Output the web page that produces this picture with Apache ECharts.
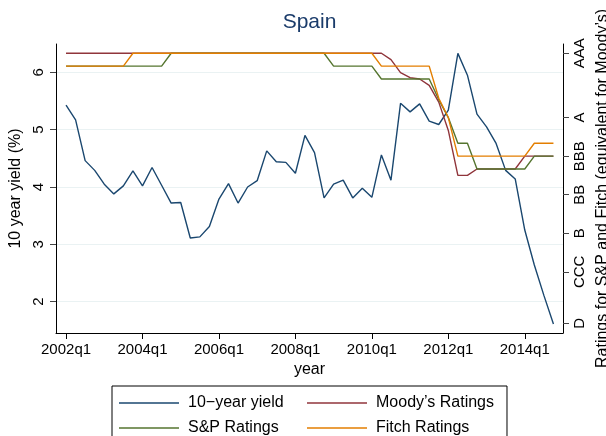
<!DOCTYPE html>
<html>
<head>
<meta charset="utf-8">
<script src="https://cdn.jsdelivr.net/npm/echarts@6/dist/echarts.min.js"></script>
<style>
html, body { margin: 0; padding: 0; background: #fff; }
#main { width: 606px; height: 436px; }
</style>
</head>
<body>
<div id="main"></div>
<script>
// quarterly data, 2002q1 .. 2014q4 (index 0 = 2002q1)
var yield10 = [5.43, 5.17, 4.46, 4.29, 4.05, 3.88, 4.02, 4.28, 4.02, 4.34, 4.03, 3.72, 3.73,
  3.11, 3.13, 3.31, 3.79, 4.06, 3.72, 4.00, 4.11, 4.63, 4.44, 4.43, 4.24, 4.90, 4.60,
  3.81, 4.05, 4.12, 3.81, 3.98, 3.82, 4.56, 4.12, 5.46, 5.31, 5.45, 5.15, 5.09, 5.34,
  6.33, 5.95, 5.27, 5.05, 4.76, 4.29, 4.14, 3.25, 2.64, 2.11, 1.61]

// ratings in notches: D=0 ... AAA=21
var moodys = [21, 21, 21, 21, 21, 21, 21, 21, 21, 21, 21, 21, 21, 21, 21, 21, 21, 21, 21, 21,
  21, 21, 21, 21, 21, 21, 21, 21, 21, 21, 21, 21, 21, 21, 20.5, 19.5, 19.1, 19, 18.5, 17.2,
  15, 11.5, 11.5, 12, 12, 12, 12, 12, 13, 13, 13, 13]
var sp = [20, 20, 20, 20, 20, 20, 20, 20, 20, 20, 20, 21, 21, 21, 21, 21, 21, 21, 21, 21,
  21, 21, 21, 21, 21, 21, 21, 21, 20, 20, 20, 20, 20, 19, 19, 19, 19, 19, 19, 17.4,
  16, 14, 14, 12, 12, 12, 12, 12, 12, 13, 13, 13]
var fitch = [20, 20, 20, 20, 20, 20, 20, 21, 21, 21, 21, 21, 21, 21, 21, 21, 21, 21, 21, 21,
  21, 21, 21, 21, 21, 21, 21, 21, 21, 21, 21, 21, 21, 20, 20, 20, 20, 20, 20, 17.5,
  16, 13, 13, 13, 13, 13, 13, 13, 13, 14, 14, 14]

var xTicks = [0, 8, 16, 24, 32, 40, 48]
var yieldTicks = [2, 3, 4, 5, 6]
var ratingTicks = [0, 4, 7, 10, 13, 16, 21]
var ratingLabels = ['D', 'CCC', 'B', 'BB', 'BBB', 'A', 'AAA']

function toPairs(arr) {
  return arr.map(function (v, i) { return [i, v] })
}

var font = 'Liberation Sans, Arial, Helvetica, sans-serif'
var chart = echarts.init(document.getElementById('main'), null, { renderer: 'canvas' })

var option = {
  backgroundColor: '#fff',
  animation: false,
  textStyle: { fontFamily: font },
  title: {
    text: 'Spain',
    left: 309.5,
    textAlign: 'center',
    top: 12,
    padding: 0,
    textStyle: { fontFamily: font, fontSize: 21, fontWeight: 'normal', color: '#1a3b6a' }
  },
  grid: { left: 56, right: 43, top: 44, bottom: 103, containLabel: false, outerBoundsMode: 'none' },
  xAxis: {
    type: 'value',
    min: -1.05,
    max: 52,
    name: 'year',
    nameLocation: 'middle',
    nameGap: 29,
    nameTextStyle: { fontFamily: font, fontSize: 16, color: '#000' },
    axisLine: { show: true, onZero: false, lineStyle: { color: '#000', width: 1 } },
    axisTick: { show: true, customValues: xTicks, length: 6, lineStyle: { color: '#000' } },
    axisLabel: {
      customValues: xTicks, margin: 9, fontSize: 15, color: '#000', fontFamily: font,
      formatter: function (v) { return (2002 + Math.round(v) / 4) + 'q1' }
    },
    splitLine: { show: false }
  },
  yAxis: [{
    type: 'value',
    position: 'left',
    min: 1.454,
    max: 6.494,
    name: '10 year yield (%)',
    nameLocation: 'middle',
    nameGap: 24,
    nameTextStyle: { fontFamily: font, fontSize: 16, color: '#000' },
    axisLine: { show: true, onZero: false, lineStyle: { color: '#000', width: 1 } },
    axisTick: { show: true, customValues: yieldTicks, length: 6, lineStyle: { color: '#444' } },
    axisLabel: { customValues: yieldTicks, rotate: 90, margin: 10, fontSize: 15, color: '#000', fontFamily: font },
    splitLine: { show: true, customValues: yieldTicks, lineStyle: { color: '#eaf2f3', width: 1.2 } }
  }, {
    type: 'value',
    position: 'right',
    min: -0.754,
    max: 21.72,
    name: 'Ratings for S&P and Fitch (equivalent for Moody\u2019s)',
    nameLocation: 'middle',
    nameGap: 29,
    nameTextStyle: { fontFamily: font, fontSize: 16, color: '#000' },
    axisLine: { show: true, onZero: false, lineStyle: { color: '#000', width: 1 } },
    axisTick: { show: true, customValues: ratingTicks, length: 6, lineStyle: { color: '#444' } },
    axisLabel: {
      customValues: ratingTicks, rotate: 90, margin: 9, fontSize: 15, color: '#000', fontFamily: font,
      formatter: function (v) { return ratingLabels[ratingTicks.indexOf(Math.round(v))] || '' }
    },
    splitLine: { show: false }
  }],
  legend: {
    left: 112,
    top: 386,
    width: 381,
    orient: 'horizontal',
    padding: [9, 13, 12, 7],
    borderColor: '#000',
    borderWidth: 1,
    icon: 'rect',
    itemWidth: 60,
    itemHeight: 1.4,
    itemGap: 9,
    textStyle: { fontFamily: font, fontSize: 16, color: '#000', width: 110, padding: [0, 0, 0, 4], lineHeight: 14 },
    data: ['10\u2212year yield', 'Moody\u2019s Ratings', 'S&P Ratings', 'Fitch Ratings']
  },
  series: [{
    name: '10\u2212year yield',
    type: 'line',
    yAxisIndex: 0,
    data: toPairs(yield10),
    symbol: 'none',
    color: '#1a476f',
    lineStyle: { color: '#1a476f', width: 1.4 }
  }, {
    name: 'Moody\u2019s Ratings',
    type: 'line',
    yAxisIndex: 1,
    data: toPairs(moodys),
    symbol: 'none',
    color: '#90353b',
    lineStyle: { color: '#90353b', width: 1.4 }
  }, {
    name: 'S&P Ratings',
    type: 'line',
    yAxisIndex: 1,
    data: toPairs(sp),
    symbol: 'none',
    color: '#55752f',
    lineStyle: { color: '#55752f', width: 1.4 }
  }, {
    name: 'Fitch Ratings',
    type: 'line',
    yAxisIndex: 1,
    data: toPairs(fitch),
    symbol: 'none',
    color: '#e37e00',
    lineStyle: { color: '#e37e00', width: 1.4 }
  }]
}

chart.setOption(option)
</script>
</body>
</html>
